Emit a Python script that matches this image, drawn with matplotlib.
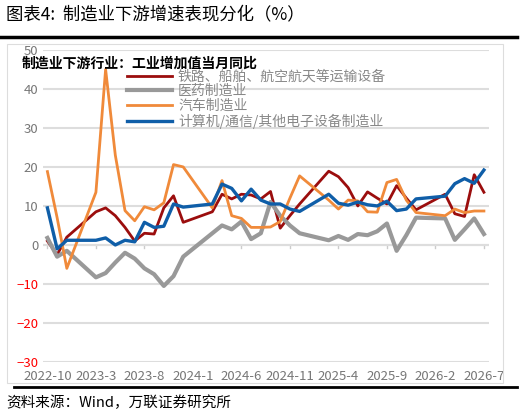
import matplotlib
matplotlib.use("Agg")
import matplotlib.pyplot as plt
from matplotlib.lines import Line2D

plt.rcParams['font.family'] = ['Noto Sans CJK SC', 'DejaVu Sans']

# month index from 2022-10 (0) to 2026-7 (45); Jan/Feb are combined and absent
months = [0,1,2,5,6,7,8,9,10,11,12,13,14,17,18,19,20,21,22,23,24,25,26,
          29,30,31,32,33,34,35,36,37,38,41,42,43,44,45]
transport = [1,-2.5,2,8.5,9.5,7.5,4.5,1,3,2.8,9.5,12.6,5.8,8.5,13,11.8,13,12.8,11.8,13.7,4.3,7.5,10.5,
             18.9,17.5,14.7,10,13.6,12,10.5,15.2,12,9,13,8,7.3,18,13.5]
pharma = [1.8,-3,-1.5,-8.3,-7.2,-4.5,-2,-3.5,-6,-7.5,-10.5,-8,-3,3,5,4,6,1.5,3,11,7.5,5,3,
          1.2,2.3,1.3,2.8,2.5,3.5,5.5,-1.5,2.5,7,6.8,1.3,4,6.8,2.8]
auto = [18.8,7,-6,13.5,45,23,8.8,6.2,9.8,9,10.8,20.6,20,9.5,16.5,7.5,6.8,4.5,4.5,4.6,6,12,17.7,
        11.5,9.2,11.5,11.3,8.5,8.4,16,16.8,11.5,8.3,7.5,9.2,8.3,8.7,8.7]
electronics = [9.5,-1,1.2,1.2,1.8,0,1.2,0.8,5.8,4.5,4.8,10.5,9.7,10.5,15.6,14.5,11.3,14.3,11.5,10.5,10.5,9.2,8.6,
               13,10.7,10.2,11,10.3,10,11.2,8.8,9.2,11.8,12.5,15.7,17,15.8,19.2]
tick_pos = [0,5,10,15,20,25,30,35,40,45]
tick_labels = ['2022-10','2023-3','2023-8','2024-1','2024-6','2024-11','2025-4','2025-9','2026-2','2026-7']
names = ['铁路、船舶、航空航天等运输设备','医药制造业','汽车制造业','计算机/通信/其他电子设备制造业']

fig = plt.figure(figsize=(5.25,4.19), dpi=100)
fig.text(0.012, 0.965, '图表4:  制造业下游增速表现分化（%）', fontsize=12.5, va='center', ha='left')
fig.add_artist(Line2D([0.0,0.985],[0.912,0.912], color='black', lw=2.5))
fig.add_artist(Line2D([0.027,0.985],[0.077,0.077], color='black', lw=2))
fig.add_artist(plt.Rectangle((0.014,0.085),0.945,0.81, fill=False, ec='#dddddd', lw=0.8))
fig.text(0.012, 0.038, '资料来源：Wind，万联证券研究所', fontsize=10.5, style='italic', va='center')

ax = fig.add_axes([0.082,0.136,0.849,0.745])
cols = ['#9b0d0d','#999999','#f08a3a','#0f5ea8']
lws = [2,3,2,2.4]
for d,c,lw,n in zip([transport,pharma,auto,electronics],cols,lws,names):
    ax.plot(months,d,color=c,lw=lw,label=n)
ax.set_xlim(-0.45,45.5)
ax.set_ylim(-30,50)
ax.set_yticks(range(-30,51,10))
ax.grid(axis='y', color='#dddddd', lw=1.5)
ax.set_axisbelow(True)
for s in ax.spines.values():
    s.set_visible(False)
ax.axhline(0, color='#dddddd', lw=1.5, zorder=0)
ax.set_xticks(tick_pos)
ax.set_xticklabels(tick_labels, fontsize=9.5, color='#777777')
ax.tick_params(axis='x', length=0, pad=6)
ax.tick_params(axis='y', length=0, labelsize=9.5, labelcolor='#777777')
for lab in ax.get_yticklabels():
    if lab.get_text().startswith('−') or lab.get_text().startswith('-'):
        lab.set_color('red')
for t in tick_pos:
    ax.plot([t,t],[0,-0.8],color='#cccccc',lw=1,zorder=0)
ax.text(-0.047,0.955,'制造业下游行业：工业增加值当月同比',transform=ax.transAxes,fontsize=10,fontweight='bold',va='center')
leg = ax.legend(loc='upper left', bbox_to_anchor=(0.175,0.955), frameon=False, fontsize=10,
                handlelength=3.3, labelspacing=0.05, borderaxespad=0, handletextpad=0.4)
for t in leg.get_texts():
    t.set_color('#888888')
fig.savefig('out.png', dpi=100)
